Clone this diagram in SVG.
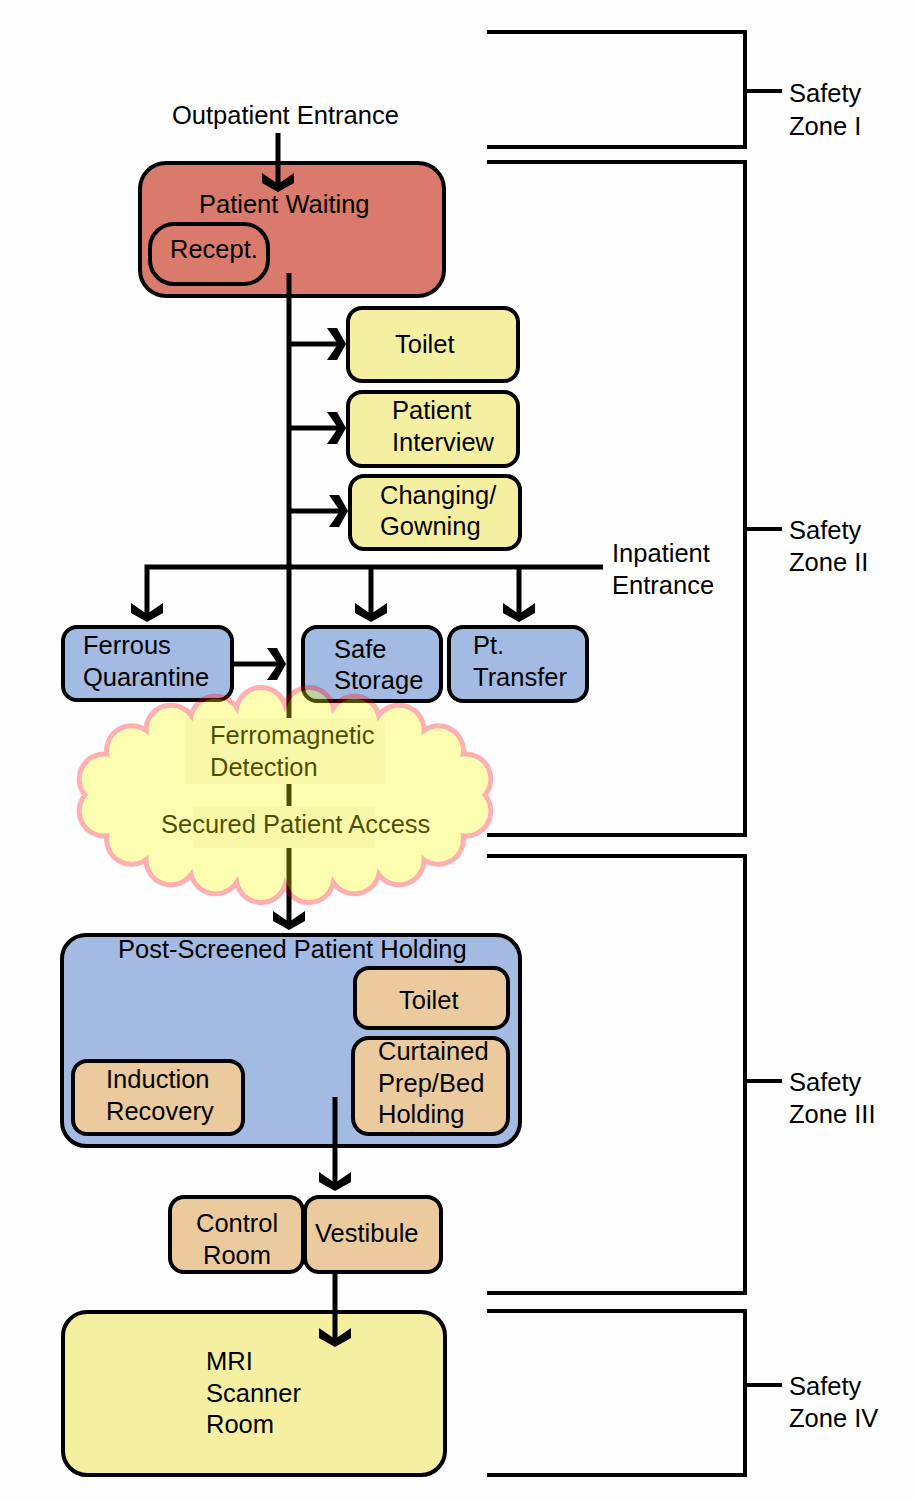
<svg xmlns="http://www.w3.org/2000/svg" xmlns:xlink="http://www.w3.org/1999/xlink" width="916" height="1501" viewBox="0 0 916 1501">
<style>
text{font-family:"Liberation Sans",Arial,sans-serif;font-size:25.5px;fill:#000}
.box{stroke:#000;stroke-width:4}
.red{fill:#D97A6C}
.yel{fill:#F5EFA1}
.blu{fill:#A3BAE2}
.bei{fill:#EBCB9D}
.conn{stroke:#000;stroke-width:5;fill:none}
.brk{stroke:#000;stroke-width:4;fill:none}
.tbox{fill:#F6F6F3}
</style>
<defs>
<polygon id="chev" points="-16,-19 0,-8 16,-19 16,-9 0,0 -16,-9" fill="#000"/>
</defs>
<rect x="0" y="0" width="916" height="1501" fill="#FEFEFE"/>

<g id="zone-brackets">
<g id="zone1"><polyline class="brk" points="487,32 745,32 745,147 487,147"/><line class="brk" x1="745" y1="91" x2="782" y2="91"/><text x="789" y="102">Safety</text><text x="789" y="135">Zone I</text></g>
<g id="zone2"><polyline class="brk" points="487,162 745,162 745,835 487,835"/><line class="brk" x1="745" y1="529" x2="782" y2="529"/><text x="789" y="539">Safety</text><text x="789" y="571">Zone II</text></g>
<g id="zone3"><polyline class="brk" points="487,856 745,856 745,1293 487,1293"/><line class="brk" x1="745" y1="1081" x2="782" y2="1081"/><text x="789" y="1091">Safety</text><text x="789" y="1123">Zone III</text></g>
<g id="zone4"><polyline class="brk" points="487,1311 745,1311 745,1475 487,1475"/><line class="brk" x1="745" y1="1385" x2="782" y2="1385"/><text x="789" y="1395">Safety</text><text x="789" y="1427">Zone IV</text></g>
</g>

<g id="outpatient-entrance"><text x="172" y="124">Outpatient Entrance</text></g>

<g id="patient-waiting"><rect class="box red" x="140" y="163" width="304" height="133" rx="26"/><text x="199" y="213">Patient Waiting</text></g>
<g id="reception"><rect class="box red" x="150" y="224" width="118" height="60" rx="24"/><text x="170" y="258">Recept.</text></g>

<g id="toilet1"><rect class="box yel" x="348" y="308" width="170" height="73" rx="14"/><text x="395" y="353">Toilet</text></g>
<g id="patient-interview"><rect class="box yel" x="348" y="392" width="170" height="74" rx="14"/><text x="392" y="419">Patient</text><text x="392" y="451">Interview</text></g>
<g id="changing"><rect class="box yel" x="350" y="476" width="170" height="73" rx="14"/><text x="380" y="504">Changing/</text><text x="380" y="535">Gowning</text></g>

<g id="inpatient-entrance"><text x="612" y="562">Inpatient</text><text x="612" y="594">Entrance</text></g>

<g id="ferrous"><rect class="box blu" x="63" y="627" width="169" height="73" rx="14"/><text x="83" y="654">Ferrous</text><text x="83" y="686">Quarantine</text></g>
<g id="safe-storage"><rect class="box blu" x="303" y="627" width="138" height="74" rx="14"/><text x="334" y="658">Safe</text><text x="334" y="689">Storage</text></g>
<g id="pt-transfer"><rect class="box blu" x="449" y="627" width="138" height="74" rx="14"/><text x="473" y="654">Pt.</text><text x="473" y="686">Transfer</text></g>

<g id="post-screened"><rect class="box blu" x="62" y="935" width="458" height="211" rx="24"/><text x="118" y="958">Post-Screened Patient Holding</text></g>
<g id="toilet2"><rect class="box bei" x="355" y="968" width="153" height="60" rx="14"/><text x="399" y="1009">Toilet</text></g>
<g id="curtained"><rect class="box bei" x="353" y="1038" width="155" height="96" rx="16"/><text x="378" y="1060">Curtained</text><text x="378" y="1092">Prep/Bed</text><text x="378" y="1123">Holding</text></g>
<g id="induction"><rect class="box bei" x="73" y="1061" width="170" height="73" rx="14"/><text x="106" y="1088">Induction</text><text x="106" y="1120">Recovery</text></g>

<g id="control-room"><rect class="box bei" x="170" y="1197" width="133" height="75" rx="14"/><text x="196" y="1232">Control</text><text x="203" y="1264">Room</text></g>
<g id="vestibule"><rect class="box bei" x="305" y="1197" width="136" height="75" rx="14"/><text x="315" y="1242">Vestibule</text></g>

<g id="mri"><rect class="box yel" x="63" y="1312" width="382" height="163" rx="24"/><text x="206" y="1370">MRI</text><text x="206" y="1402">Scanner</text><text x="206" y="1433">Room</text></g>

<g id="connectors">
<line class="conn" x1="278" y1="133" x2="278" y2="186"/>
<use xlink:href="#chev" href="#chev" transform="translate(278,192)"/>
<line class="conn" x1="289" y1="273" x2="289" y2="924"/>
<use xlink:href="#chev" href="#chev" transform="translate(289,930)"/>
<line class="conn" x1="289" y1="344" x2="340" y2="344"/>
<use xlink:href="#chev" href="#chev" transform="translate(346,344) rotate(-90)"/>
<line class="conn" x1="289" y1="428" x2="340" y2="428"/>
<use xlink:href="#chev" href="#chev" transform="translate(346,428) rotate(-90)"/>
<line class="conn" x1="289" y1="511" x2="342" y2="511"/>
<use xlink:href="#chev" href="#chev" transform="translate(348,511) rotate(-90)"/>
<polyline class="conn" points="147,616 147,567 603,567"/>
<use xlink:href="#chev" href="#chev" transform="translate(147,622)"/>
<line class="conn" x1="371" y1="567" x2="371" y2="616"/>
<use xlink:href="#chev" href="#chev" transform="translate(371,622)"/>
<line class="conn" x1="519" y1="567" x2="519" y2="616"/>
<use xlink:href="#chev" href="#chev" transform="translate(519,622)"/>
<line class="conn" x1="232" y1="664" x2="280" y2="664"/>
<use xlink:href="#chev" href="#chev" transform="translate(286,664) rotate(-90)"/>
<line class="conn" x1="335" y1="1097" x2="335" y2="1185"/>
<use xlink:href="#chev" href="#chev" transform="translate(335,1191)"/>
<line class="conn" x1="335" y1="1272" x2="335" y2="1341"/>
<use xlink:href="#chev" href="#chev" transform="translate(335,1347)"/>
</g>

<g id="secured-access">
<rect class="tbox" x="185" y="718" width="200" height="66"/>
<text x="210" y="744">Ferromagnetic</text><text x="210" y="776">Detection</text>
<rect class="tbox" x="193" y="806" width="182" height="42"/>
<text x="161" y="833">Secured Patient Access</text>
<g opacity="0.3">
<path fill="#FFFF00" stroke="#FF0000" stroke-width="5" d="M485,795 A25,25 0 0 1 463.2,835.9 A25,25 0 0 1 424,859.7 A25,25 0 0 1 378.8,874.5 A25,25 0 0 1 333.4,882.3 A25,25 0 0 1 285,885 A25,25 0 0 1 236.6,882.3 A25,25 0 0 1 191.2,874.5 A25,25 0 0 1 146,859.7 A25,25 0 0 1 106.8,835.9 A25,25 0 0 1 85,795 A25,25 0 0 1 106.8,754.1 A25,25 0 0 1 146,730.3 A25,25 0 0 1 191.2,715.5 A25,25 0 0 1 236.6,707.7 A25,25 0 0 1 285,705 A25,25 0 0 1 333.4,707.7 A25,25 0 0 1 378.8,715.5 A25,25 0 0 1 424,730.3 A25,25 0 0 1 463.2,754.1 A25,25 0 0 1 485,795 Z"/>
</g>
</g>
</svg>
